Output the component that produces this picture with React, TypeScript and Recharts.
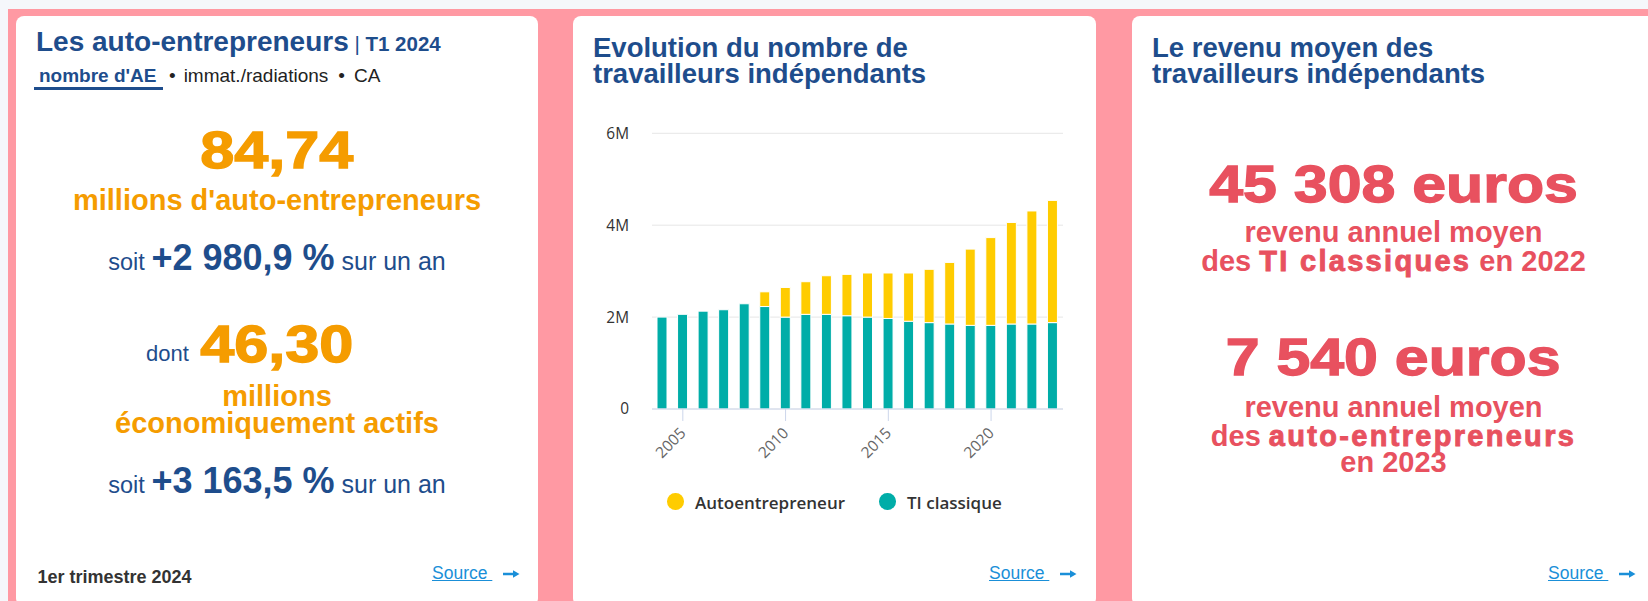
import React from 'react';
import { BarChart, Bar, XAxis, YAxis, CartesianGrid } from 'recharts';

// Evolution du nombre de travailleurs indépendants
const YEARS = [2004, 2005, 2006, 2007, 2008, 2009, 2010, 2011, 2012, 2013, 2014, 2015, 2016, 2017, 2018, 2019, 2020, 2021, 2022, 2023];
const TI_CLASSIQUE = [2000000, 2060000, 2130000, 2160000, 2290000, 2230000, 2000000, 2060000, 2060000, 2030000, 2000000, 1970000, 1910000, 1880000, 1850000, 1820000, 1820000, 1850000, 1850000, 1880000];
const AUTO_ENTREPRENEUR = [0, 0, 0, 0, 0, 320000, 645000, 710000, 840000, 900000, 960000, 990000, 1050000, 1160000, 1340000, 1660000, 1910000, 2210000, 2460000, 2660000];
const Y_TICKS = [0, 2000000, 4000000, 6000000];
const X_TICK_YEARS = [2005, 2010, 2015, 2020];
const SERIES_NAMES = ['Autoentrepreneur', 'TI classique'];
const SERIES_COLORS = ['#ffcc00', '#00ada8'];

const data = YEARS.map((year, i) => ({
  year,
  ti: TI_CLASSIQUE[i],
  auto: AUTO_ENTREPRENEUR[i],
}));

const BLUE = '#1e4d8c';
const ORANGE = '#f59c00';
const RED = '#e8515f';
const LINK = '#1a8fd8';
const FONT = '"Liberation Sans", Arial, sans-serif';
const CHART_FONT = '"Open Sans", "DejaVu Sans", sans-serif';

const card: React.CSSProperties = {
  position: 'absolute',
  top: 16,
  height: 590,
  background: '#fff',
  borderRadius: 8,
  fontFamily: FONT,
};

// line placed by its baseline (Liberation Sans ascent ~0.8465 of size when lineHeight = size)
const lineAt = (baseline: number, size: number): React.CSSProperties => ({
  position: 'absolute',
  left: 0,
  right: 0,
  top: baseline - 0.8465 * size,
  fontSize: size,
  lineHeight: `${size}px`,
  textAlign: 'center',
  whiteSpace: 'nowrap',
});

const Heavy = ({ children, color, scale }: { children: React.ReactNode; color: string; scale: number }) => (
  <span
    style={{
      display: 'inline-block',
      fontWeight: 700,
      color,
      transform: `scaleX(${scale})`,
      WebkitTextStroke: `1.3px ${color}`,
    }}
  >
    {children}
  </span>
);

const Black = ({ children }: { children: React.ReactNode }) => (
  <span style={{ fontWeight: 700, letterSpacing: 2.3, WebkitTextStroke: `0.9px ${RED}` }}>{children}</span>
);

const Source = () => (
  <>
    <div style={{ position: 'absolute', left: 416, top: 564 - 0.8465 * 17.5, fontSize: 17.5, lineHeight: '17.5px', color: LINK, textDecoration: 'underline', whiteSpace: 'pre' }}>
      {'Source '}
    </div>
    <svg style={{ position: 'absolute', left: 487, top: 553 }} width={17} height={10}>
      <line x1={0} y1={5} x2={12} y2={5} stroke={LINK} strokeWidth={2.5} />
      <path d="M10 1.2 L16.5 5 L10 8.8 Z" fill={LINK} />
    </svg>
  </>
);

const Title = ({ lines }: { lines: string[] }) => (
  <div style={{ position: 'absolute', left: 20, top: 18.6, fontSize: 27.5, lineHeight: '26px', fontWeight: 700, color: BLUE, whiteSpace: 'nowrap' }}>
    {lines.map((l) => (
      <div key={l}>{l}</div>
    ))}
  </div>
);

const YearTick = (props: any) => {
  const { x, y, payload } = props;
  if (!X_TICK_YEARS.includes(payload.value)) return null;
  const axisY = y - 25;
  return (
    <g>
      <line x1={x} x2={x} y1={axisY} y2={axisY + 12} stroke="#ccd6eb" strokeWidth={1} />
      <text
        x={x + 4}
        y={y}
        textAnchor="end"
        transform={`rotate(-45 ${x + 4} ${y})`}
        fill="#666"
        fontSize={15.4}
        fontFamily={CHART_FONT}
      >
        {payload.value}
      </text>
    </g>
  );
};

const formatY = (v: number) => (v === 0 ? '0' : `${v / 1000000}M`);

const WorkersChart = () => (
  <div style={{ position: 'absolute', left: 0, top: 100 }}>
    <BarChart width={523} height={380} data={data} margin={{ top: 17.3, right: 33, bottom: 0, left: 0 }}>
      <CartesianGrid vertical={false} stroke="#e6e6e6" />
      <XAxis
        dataKey="year"
        interval={0}
        tickLine={false}
        tickSize={12}
        tickMargin={13}
        tick={YearTick}
        axisLine={{ stroke: '#ccd6eb' }}
        height={87}
      />
      <YAxis
        width={79}
        domain={[0, 6000000]}
        ticks={Y_TICKS}
        tickFormatter={formatY}
        axisLine={false}
        tickLine={false}
        tickSize={0}
        tickMargin={23}
        tick={{ fill: '#333', fontSize: 15.4, fontFamily: CHART_FONT }}
      />
      <Bar dataKey="ti" stackId="a" name={SERIES_NAMES[1]} fill={SERIES_COLORS[1]} stroke="#fff" strokeWidth={1} barSize={10} isAnimationActive={false} />
      <Bar dataKey="auto" stackId="a" name={SERIES_NAMES[0]} fill={SERIES_COLORS[0]} stroke="#fff" strokeWidth={1} barSize={10} isAnimationActive={false} />
    </BarChart>
    {SERIES_NAMES.map((name, i) => (
      <React.Fragment key={name}>
        <div
          style={{
            position: 'absolute',
            left: i === 0 ? 94.4 : 306,
            top: 377,
            width: 16.5,
            height: 16.5,
            borderRadius: '50%',
            background: SERIES_COLORS[i],
          }}
        />
        <div
          style={{
            position: 'absolute',
            left: i === 0 ? 122 : 334,
            top: 378,
            fontFamily: CHART_FONT,
            fontWeight: 600,
            fontSize: 17,
            lineHeight: '17px',
            color: '#333',
            whiteSpace: 'nowrap',
          }}
        >
          {name}
        </div>
      </React.Fragment>
    ))}
  </div>
);

export default function App() {
  return (
    <div style={{ position: 'absolute', left: 0, top: 0, width: 1648, height: 601, overflow: 'hidden', background: '#f5f7fb' }}>
      <div style={{ position: 'absolute', left: 8, top: 9, right: 0, bottom: 0, background: '#ff99a3' }} />

      {/* Carte 1 : auto-entrepreneurs */}
      <div style={{ ...card, left: 16, width: 522 }}>
        <div style={{ position: 'absolute', left: 20, top: 36 - 0.8465 * 28, fontSize: 28, lineHeight: '28px', fontWeight: 700, color: BLUE, whiteSpace: 'nowrap' }}>
          Les auto-entrepreneurs
          <span style={{ fontSize: 20.5 }}>
            {' '}
            <span style={{ fontWeight: 400 }}>|</span> T1 2024
          </span>
        </div>
        <div style={{ position: 'absolute', left: 18, top: 66 - 0.8465 * 19, fontSize: 19, lineHeight: '19px', color: '#222', whiteSpace: 'nowrap' }}>
          <span style={{ padding: '0 5.5px 0 5px', fontWeight: 700, color: BLUE }}>nombre d'AE</span>
          <span style={{ margin: '0 8px 0 7px' }}>•</span>immat./radiations<span style={{ margin: '0 9px 0 10px' }}>•</span>CA
        </div>
        <div style={{ position: 'absolute', left: 18, top: 71, width: 128.5, height: 2.5, background: BLUE }} />

        <div style={lineAt(152, 51)}>
          <Heavy color={ORANGE} scale={1.2}>84,74</Heavy>
        </div>
        <div style={{ ...lineAt(195, 29), fontWeight: 700, color: ORANGE }}>millions d'auto-entrepreneurs</div>
        <div style={{ ...lineAt(254, 36), color: BLUE }}>
          <span style={{ fontSize: 23.5 }}>soit </span>
          <span style={{ fontWeight: 700 }}>+2 980,9 %</span>
          <span style={{ fontSize: 25 }}> sur un an</span>
        </div>

        <div style={{ position: 'absolute', left: 130, top: 346 - 0.8465 * 22, fontSize: 22, lineHeight: '22px', color: BLUE }}>dont</div>
        <div style={lineAt(346, 51)}>
          <Heavy color={ORANGE} scale={1.2}>46,30</Heavy>
        </div>
        <div style={{ ...lineAt(391, 29), fontWeight: 700, color: ORANGE }}>millions</div>
        <div style={{ ...lineAt(418, 29), fontWeight: 700, color: ORANGE }}>économiquement actifs</div>
        <div style={{ ...lineAt(477, 36), color: BLUE }}>
          <span style={{ fontSize: 23.5 }}>soit </span>
          <span style={{ fontWeight: 700 }}>+3 163,5 %</span>
          <span style={{ fontSize: 25 }}> sur un an</span>
        </div>

        <div style={{ position: 'absolute', left: 21.5, top: 567 - 0.8465 * 18, fontSize: 18, lineHeight: '18px', fontWeight: 700, color: '#333', whiteSpace: 'nowrap' }}>
          1er trimestre 2024
        </div>
        <Source />
      </div>

      {/* Carte 2 : évolution */}
      <div style={{ ...card, left: 573, width: 523 }}>
        <Title lines={['Evolution du nombre de', 'travailleurs indépendants']} />
        <WorkersChart />
        <Source />
      </div>

      {/* Carte 3 : revenu moyen */}
      <div style={{ ...card, left: 1132, width: 523 }}>
        <Title lines={['Le revenu moyen des', 'travailleurs indépendants']} />
        <div style={lineAt(186, 52)}>
          <Heavy color={RED} scale={1.17}>45 308 euros</Heavy>
        </div>
        <div style={{ ...lineAt(227, 29), fontWeight: 700, color: RED }}>revenu annuel moyen</div>
        <div style={{ ...lineAt(256, 29), fontWeight: 700, color: RED }}>
          des <Black>TI classiques</Black> en 2022
        </div>
        <div style={lineAt(359, 52)}>
          <Heavy color={RED} scale={1.17}>7 540 euros</Heavy>
        </div>
        <div style={{ ...lineAt(402, 29), fontWeight: 700, color: RED }}>revenu annuel moyen</div>
        <div style={{ ...lineAt(431, 29), fontWeight: 700, color: RED }}>
          des <Black>auto-entrepreneurs</Black>
        </div>
        <div style={{ ...lineAt(457, 29), fontWeight: 700, color: RED }}>en 2023</div>
        <Source />
      </div>
    </div>
  );
}
